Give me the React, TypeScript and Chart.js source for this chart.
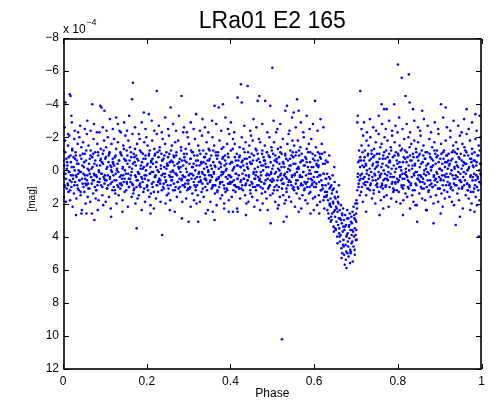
import React, { useEffect, useRef } from "react";
import { Chart, registerables } from "chart.js";

Chart.register(...registerables);

const titleText = "LRa01 E2 165";
const xLabel = "Phase";
const yLabel = "[mag]";
const exponentBase = "x 10";
const exponentPower = "\u22124";
const xTicks = [0, 0.2, 0.4, 0.6, 0.8, 1];
const yTicks = [-8, -6, -4, -2, 0, 2, 4, 6, 8, 10, 12];

// out-of-transit band, phase 0 - 0.63 (mag in units of 1e-4)
const bandBefore: number[][] = [
[0,.4],[.001,-1.2],[.002,1.6],[.003,-.3],[.004,.9],[.005,-1.8],[.006,.2],[.007,1.9],[.008,-.7],[.009,1.1],
[.01,-.5],[.011,.8],[.012,-1.5],[.013,1.3],[.014,.1],[.015,-2.1],[.016,.6],[.017,1.8],[.018,-.9],[.019,.3],
[.02,1],[.021,-.2],[.022,-1.3],[.023,2.2],[.024,.5],[.025,-.8],[.026,1.4],[.027,-1.9],[.028,0],[.029,.7],
[.03,-1.1],[.031,.3],[.032,1.7],[.033,-.6],[.034,.9],[.035,-1.6],[.036,.2],[.037,-.4],[.038,1.2],[.039,-2],
[.04,.6],[.041,-.9],[.042,1.5],[.043,.1],[.044,-1.4],[.045,2.4],[.046,-.3],[.047,.8],[.048,-1.7],[.049,1],
[.05,-.2],[.051,1.3],[.052,-1],[.053,.5],[.054,2],[.055,-.6],[.056,.9],[.057,-2.2],[.058,.3],[.059,1.6],
[.06,.8],[.061,-1.5],[.062,0],[.063,1.1],[.064,-.7],[.065,1.9],[.066,-1.2],[.067,.4],[.068,-.1],[.069,2.6],
[.07,-.8],[.071,.6],[.072,1.4],[.073,-1.9],[.074,.2],[.075,-.4],[.076,1],[.077,-1.1],[.078,1.7],[.079,.3],
[.08,1.2],[.081,-.3],[.082,-1.6],[.083,.7],[.084,-.9],[.085,1.8],[.086,.1],[.087,-2.3],[.088,.5],[.089,-.6],
[.09,-1.3],[.091,.9],[.092,.2],[.093,-.5],[.094,1.5],[.095,-1],[.096,2.1],[.097,.4],[.098,-1.8],[.099,.8],
[.1,.3],[.101,-.7],[.102,1.9],[.103,-1.4],[.104,.6],[.105,1.1],[.106,-.2],[.107,-2],[.108,.9],[.109,-.9],
[.11,1.6],[.111,-1.1],[.112,.4],[.113,-.3],[.114,2.3],[.115,0],[.116,-1.6],[.117,.7],[.118,1.2],[.119,-.5],
[.12,-.4],[.121,1],[.122,-1.9],[.123,.6],[.124,-.8],[.125,1.4],[.126,.2],[.127,-1.3],[.128,2],[.129,-.1],
[.13,.9],[.131,-1.7],[.132,.1],[.133,1.5],[.134,-.6],[.135,-2.4],[.136,.8],[.137,1.1],[.138,-1],[.139,.3],
[.14,-.9],[.141,.5],[.142,1.8],[.143,-.2],[.144,-1.5],[.145,.7],[.146,-.7],[.147,1.3],[.148,0],[.149,-2.1],
[.15,.2],[.151,1.2],[.152,-1.2],[.153,.8],[.154,-.4],[.155,2.2],[.156,-1.8],[.157,.5],[.158,1],[.159,-.6],
[.16,-1.4],[.161,.7],[.162,.3],[.163,-.8],[.164,1.6],[.165,-.1],[.166,-2.2],[.167,.9],[.168,1.4],[.169,-1],
[.17,1.1],[.171,-.5],[.172,-1.3],[.173,2],[.174,.4],[.175,-.9],[.176,.6],[.177,-1.6],[.178,1.7],[.179,.1],
[.18,-.6],[.181,1.5],[.182,.2],[.183,-1.9],[.184,.8],[.185,1],[.186,-.3],[.187,-1.1],[.188,2.4],[.189,.5],
[.19,.7],[.191,-1],[.192,1.3],[.193,-.2],[.194,-1.7],[.195,.3],[.196,1.9],[.197,-.7],[.198,0],[.199,-2],
[.2,-.3],[.201,.9],[.202,-1.5],[.203,1.2],[.204,.6],[.205,-.9],[.206,1.6],[.207,-1.2],[.208,.2],[.209,2.1],
[.21,1.4],[.211,-.6],[.212,.1],[.213,-1.8],[.214,1],[.215,-.4],[.216,.7],[.217,2.3],[.218,-1.3],[.219,.4],
[.22,-1],[.221,.3],[.222,1.7],[.223,-.5],[.224,-2.2],[.225,.9],[.226,0],[.227,1.3],[.228,-.8],[.229,.6],
[.23,.5],[.231,-1.4],[.232,.8],[.233,1.9],[.234,-.1],[.235,-1],[.236,1.2],[.237,-.6],[.238,-1.9],[.239,.2],
[.24,-.7],[.241,1.1],[.242,-.2],[.243,.4],[.244,-1.6],[.245,2],[.246,.7],[.247,-1.1],[.248,1.5],[.249,-.3],
[.25,.9],[.251,-.8],[.252,1.4],[.253,-2.1],[.254,.3],[.255,-.5],[.256,1.8],[.257,.1],[.258,-1.2],[.259,.6],
[.26,-1.5],[.261,.4],[.262,0],[.263,1.2],[.264,-.9],[.265,.8],[.266,-.3],[.267,2.5],[.268,-1.7],[.269,1],
[.27,.2],[.271,-1.1],[.272,1.6],[.273,-.4],[.274,.7],[.275,-1.8],[.276,1.1],[.277,-.1],[.278,.5],[.279,-.7],
[.28,1.3],[.281,-.2],[.282,-1.4],[.283,.6],[.284,-.6],[.285,1.9],[.286,.3],[.287,-2.3],[.288,.9],[.289,-1],
[.29,-.8],[.291,1],[.292,.4],[.293,-1.3],[.294,1.7],[.295,-.5],[.296,.1],[.297,1.2],[.298,-2],[.299,.8],
[.3,.6],[.301,-1.6],[.302,1.1],[.303,.2],[.304,-.7],[.305,2.2],[.306,-1.2],[.307,.5],[.308,-.2],[.309,1.4],
[.31,-1.1],[.311,.3],[.312,-.4],[.313,1.8],[.314,.9],[.315,-1.9],[.316,0],[.317,1],[.318,-.6],[.319,2],
[.32,.4],[.321,-.9],[.322,1.5],[.323,-1.5],[.324,.7],[.325,.1],[.326,-.3],[.327,1.9],[.328,-1],[.329,.6],
[.33,-.5],[.331,1.3],[.332,-2.1],[.333,.8],[.334,.2],[.335,-1.2],[.336,1.6],[.337,-.1],[.338,.5],[.339,-.8],
[.34,1],[.341,-.4],[.342,.6],[.343,-1.7],[.344,1.2],[.345,-.6],[.346,2.4],[.347,0],[.348,-1.3],[.349,.3],
[.35,-1.2],[.351,.7],[.352,1.9],[.353,-.3],[.354,-.9],[.355,1.1],[.356,.4],[.357,-2],[.358,.9],[.359,-.5],
[.36,.1],[.361,-1.5],[.362,.9],[.363,1.4],[.364,-.2],[.365,-1.1],[.366,.6],[.367,2.1],[.368,-.7],[.369,1.2],
[.37,-.9],[.371,.5],[.372,-.1],[.373,1],[.374,-1.8],[.375,.8],[.376,1.7],[.377,-.4],[.378,.3],[.379,-1.3],
[.38,1.5],[.381,-.7],[.382,.2],[.383,-1.4],[.384,.9],[.385,2],[.386,-.3],[.387,-.9],[.388,1.3],[.389,0],
[.39,-.4],[.391,1.1],[.392,-1.6],[.393,.5],[.394,.8],[.395,-.8],[.396,1.8],[.397,-2.2],[.398,.3],[.399,.7],
[.4,.8],[.401,-1.2],[.402,.4],[.403,1.6],[.404,-.5],[.405,0],[.406,-1.9],[.407,1.2],[.408,.6],[.409,-.2],
[.41,-1.6],[.411,.9],[.412,1.3],[.413,-.6],[.414,.2],[.415,-1],[.416,2.3],[.417,.5],[.418,-.3],[.419,1],
[.42,.3],[.421,-.8],[.422,-1.4],[.423,1.7],[.424,.7],[.425,-.2],[.426,1.1],[.427,-2],[.428,.9],[.429,-.6],
[.43,1.2],[.431,-1.3],[.432,.5],[.433,0],[.434,-.7],[.435,1.5],[.436,-1.7],[.437,.8],[.438,2],[.439,-.4],
[.44,-.2],[.441,.6],[.442,-1.1],[.443,1.9],[.444,.3],[.445,-1.5],[.446,.9],[.447,-.5],[.448,1.4],[.449,-2.1],
[.45,.7],[.451,-.4],[.452,1.6],[.453,-1.8],[.454,1],[.455,.2],[.456,-.9],[.457,2.2],[.458,-.1],[.459,.5],
[.46,-1.3],[.461,1.2],[.462,.1],[.463,-.6],[.464,1.8],[.465,-1],[.466,.4],[.467,.9],[.468,-1.9],[.469,.6],
[.47,.5],[.471,-1.7],[.472,1],[.473,.3],[.474,-.3],[.475,1.4],[.476,-1.2],[.477,2],[.478,0],[.479,-.8],
[.48,-.6],[.481,.8],[.482,-1.5],[.483,1.3],[.484,.6],[.485,-.2],[.486,1.7],[.487,-1.1],[.488,.2],[.489,2.4],
[.49,1.1],[.491,-.9],[.492,.3],[.493,-2],[.494,.9],[.495,1.5],[.496,-.5],[.497,.1],[.498,-1.4],[.499,.7],
[.5,-.1],[.501,1.4],[.502,-1],[.503,.6],[.504,-1.7],[.505,1],[.506,.2],[.507,1.9],[.508,-.6],[.509,-2.3],
[.51,.9],[.511,-.5],[.512,1.2],[.513,-1.3],[.514,.4],[.515,2.1],[.516,-.8],[.517,0],[.518,1.6],[.519,-1.1],
[.52,-1.4],[.521,.6],[.522,-.2],[.523,1.1],[.524,.8],[.525,-1.9],[.526,1.5],[.527,-.4],[.528,.3],[.529,2],
[.53,.2],[.531,-1],[.532,1.8],[.533,-.7],[.534,1.3],[.535,.5],[.536,-1.6],[.537,.9],[.538,-.1],[.539,-2.2],
[.54,1.6],[.541,-.3],[.542,0],[.543,-1.2],[.544,.7],[.545,1.9],[.546,-.9],[.547,.4],[.548,-1.8],[.549,1.1],
[.55,-.8],[.551,1],[.552,-1.5],[.553,.3],[.554,2.2],[.555,-.4],[.556,.8],[.557,-1.1],[.558,1.4],[.559,.1],
[.56,.6],[.561,-1.8],[.562,1.1],[.563,-.1],[.564,-.9],[.565,1.7],[.566,.3],[.567,-1.4],[.568,.9],[.569,2.3],
[.57,-1],[.571,.4],[.572,1.5],[.573,-.6],[.574,.1],[.575,-2],[.576,1.2],[.577,.7],[.578,-.3],[.579,1.8],
[.58,.8],[.581,-.7],[.582,-1.3],[.583,1],[.584,2],[.585,-.2],[.586,.5],[.587,-1.6],[.588,1.4],[.589,0],
[.59,-.5],[.591,1.3],[.592,.2],[.593,-1.9],[.594,.9],[.595,.6],[.596,-1],[.597,1.7],[.598,-.2],[.599,2.4],
[.6,1],[.601,-.6],[.602,1.6],[.603,.1],[.604,-1.4],[.605,.8],[.606,-.3],[.607,2.1],[.608,.4],[.609,-1.1],
[.61,-.2],[.611,1.5],[.612,.7],[.613,-1],[.614,1.9],[.615,.3],[.616,-.7],[.617,1.2],[.618,-1.6],[.619,.9],
[.62,.9],[.621,-.4],[.622,1.8],[.623,.2],[.624,2.3],[.625,-1.1],[.626,1.3],[.627,.5],[.628,-.6],[.629,1.6]
];

// denser core of the band, phase 0 - 0.63
const coreBefore: number[][] = [
[.0005,.2],[.0022,-.6],[.0038,1],[.0055,-1.1],[.0071,.5],[.0088,-.1],
[.0105,-.3],[.0122,.9],[.0138,-.8],[.0155,.1],[.0171,1.2],[.0188,-.5],
[.0205,.7],[.0222,-1.2],[.0238,.3],[.0255,-.2],[.0271,.9],[.0288,-.7],
[.0305,-.9],[.0322,.4],[.0338,-.4],[.0355,1.1],[.0371,0],[.0388,.6],
[.0405,.1],[.0422,1.3],[.0438,-.7],[.0455,.5],[.0471,-1],[.0488,.2],
[.0505,-.5],[.0522,.3],[.0538,.8],[.0555,-1.2],[.0571,.6],[.0588,-.1],
[.0605,1.1],[.0622,-.4],[.0638,.2],[.0655,-.9],[.0671,.4],[.0688,.8],
[.0705,-.2],[.0722,-1],[.0738,.6],[.0755,.3],[.0771,-.6],[.0788,1.2],
[.0805,.4],[.0822,.9],[.0838,-1.1],[.0855,0],[.0871,.7],[.0888,-.3],
[.0905,-.7],[.0922,.2],[.0938,1],[.0955,-.4],[.0971,-1.2],[.0988,.5],
[.1005,.6],[.1022,-.8],[.1038,-.1],[.1055,1.1],[.1071,.3],[.1088,-.5],
[.1105,-1],[.1122,.5],[.1138,.8],[.1155,-.2],[.1171,.1],[.1188,-.7],
[.1205,.3],[.1222,-.3],[.1238,1.2],[.1255,-.9],[.1271,.6],[.1288,0],
[.1305,-.4],[.1322,1],[.1338,-.6],[.1355,.4],[.1371,-1.1],[.1388,.8],
[.1405,.9],[.1422,-.1],[.1438,.3],[.1455,-1.3],[.1471,.5],[.1488,-.6],
[.1505,-.6],[.1522,.7],[.1538,-.9],[.1555,.2],[.1571,1],[.1588,-.2],
[.1605,.5],[.1622,-1.1],[.1638,.1],[.1655,.8],[.1671,-.4],[.1688,1.2],
[.1705,-.8],[.1722,.3],[.1738,-.3],[.1755,1],[.1771,-.7],[.1788,.6],
[.1805,.2],[.1822,.9],[.1838,-1.2],[.1855,-.1],[.1871,.4],[.1888,-.5],
[.1905,-.1],[.1922,-.7],[.1938,1.1],[.1955,.5],[.1971,-.9],[.1988,.3],
[.2005,1],[.2022,-.4],[.2038,.6],[.2055,-1],[.2071,.2],[.2088,-.2],
[.2105,-.5],[.2122,.8],[.2138,-.7],[.2155,.1],[.2171,1.3],[.2188,-.9],
[.2205,.4],[.2222,-.2],[.2238,.9],[.2255,-1.1],[.2271,.7],[.2288,.1],
[.2305,-1.2],[.2322,.6],[.2338,-.3],[.2355,.3],[.2371,-.6],[.2388,1],
[.2405,.8],[.2422,-.9],[.2438,.2],[.2455,.6],[.2471,-.1],[.2488,-.4],
[.2505,-.3],[.2522,1.1],[.2538,-1],[.2555,.4],[.2571,.9],[.2588,-.6],
[.2605,.6],[.2622,-.5],[.2638,.1],[.2655,-.8],[.2671,1.2],[.2688,.2],
[.2705,-.9],[.2722,.3],[.2738,.7],[.2755,-.2],[.2771,-.5],[.2788,1],
[.2805,.1],[.2822,-1.2],[.2838,.5],[.2855,.9],[.2871,-.3],[.2888,.4],
[.2905,-.6],[.2922,.8],[.2938,-.1],[.2955,-1],[.2971,.6],[.2988,1.1],
[.3005,.3],[.3022,-.4],[.3038,1],[.3055,-.7],[.3071,.2],[.3088,-1.1],
[.3105,-.2],[.3122,.7],[.3138,-.9],[.3155,.5],[.3171,1.2],[.3188,-.3],
[.3205,.9],[.3222,-.6],[.3238,.2],[.3255,-1.2],[.3271,.4],[.3288,.7],
[.3305,-.4],[.3322,.1],[.3338,1.1],[.3355,-.5],[.3371,-.8],[.3388,.3],
[.3405,.5],[.3422,-1],[.3438,-.2],[.3455,.8],[.3471,.1],[.3488,-.6],
[.3505,-.7],[.3522,.6],[.3538,.3],[.3555,-.1],[.3571,1],[.3588,-1.2],
[.3605,.2],[.3622,-.3],[.3638,.9],[.3655,-.9],[.3671,.5],[.3688,1.3],
[.3705,-1.1],[.3722,.4],[.3738,-.5],[.3755,.7],[.3771,-.2],[.3788,.1],
[.3805,.7],[.3822,-.8],[.3838,.1],[.3855,1.1],[.3871,-.6],[.3888,.4],
[.3905,-.1],[.3922,1.2],[.3938,-1],[.3955,.3],[.3971,.8],[.3988,-.4],
[.4005,.4],[.4022,-.5],[.4038,.7],[.4055,-1.3],[.4071,-.1],[.4088,.9],
[.4105,-.8],[.4122,.2],[.4138,1],[.4155,-.3],[.4171,.5],[.4188,-.6],
[.4205,1.1],[.4222,-.9],[.4238,-.2],[.4255,.6],[.4271,-.5],[.4288,.2],
[.4305,-.3],[.4322,.5],[.4338,-1.1],[.4355,.9],[.4371,.3],[.4388,-.7],
[.4405,.6],[.4422,-.1],[.4438,.4],[.4455,-.8],[.4471,1.2],[.4488,-.4],
[.4505,-1],[.4522,.8],[.4538,-.6],[.4555,.1],[.4571,.5],[.4588,1],
[.4605,.3],[.4622,-1.2],[.4638,.9],[.4655,-.2],[.4671,-.7],[.4688,.6],
[.4705,-.5],[.4722,.1],[.4738,.7],[.4755,-1],[.4771,1.1],[.4788,-.3],
[.4805,.8],[.4822,-.6],[.4838,-.4],[.4855,.3],[.4871,-1.1],[.4888,.5],
[.4905,-.2],[.4922,1],[.4938,-.8],[.4955,.6],[.4971,.2],[.4988,-1.2],
[.5005,.5],[.5022,-.3],[.5038,1.2],[.5055,-.6],[.5071,-.9],[.5088,.1],
[.5105,-.7],[.5122,.6],[.5138,-.1],[.5155,1],[.5171,-.4],[.5188,.3],
[.5205,.2],[.5222,-1],[.5238,.5],[.5255,-.5],[.5271,.8],[.5288,-.2],
[.5305,-.9],[.5322,.4],[.5338,1.1],[.5355,.1],[.5371,-.6],[.5388,.7],
[.5405,.6],[.5422,-.7],[.5438,-.3],[.5455,.9],[.5471,.3],[.5488,-1.1],
[.5505,-.4],[.5522,1.2],[.5538,.2],[.5555,-.9],[.5571,.6],[.5588,-.1],
[.5605,1],[.5622,-.2],[.5638,-1.2],[.5655,.4],[.5671,-.5],[.5688,.8],
[.5705,-.6],[.5722,.9],[.5738,.1],[.5755,-.3],[.5771,1.1],[.5788,-.8],
[.5805,.3],[.5822,-.5],[.5838,.7],[.5855,-1.1],[.5871,.2],[.5888,1],
[.5905,-1.1],[.5922,.5],[.5938,-.2],[.5955,.8],[.5971,-.7],[.5988,.4],
[.6005,.7],[.6022,-.9],[.6038,1],[.6055,-.4],[.6071,.1],[.6088,-.6],
[.6105,-.3],[.6122,.3],[.6138,-.8],[.6155,1.2],[.6171,.6],[.6188,-1],
[.6205,1.1],[.6222,.2],[.6238,1.6],[.6255,-.4],[.6271,.9],[.6288,.5]
];

// transit dip, phase 0.63 - 0.71
const transitDip: number[][] = [
[.63,1.5],[.631,.2],[.6315,2.4],[.632,-.5],[.633,1.8],[.634,.8],[.635,2.9],[.636,-.9],[.6365,1.1],[.637,2.1],[.638,.5],[.639,1.7],
[.64,2.2],[.641,.9],[.6415,3],[.642,1.4],[.643,2.6],[.644,.3],[.645,1.9],[.646,3.4],[.6465,1.1],[.647,2.5],[.648,-.2],[.649,1.6],
[.65,2.8],[.651,1.7],[.6515,3.6],[.652,2.2],[.653,3.1],[.654,1.3],[.655,4],[.656,2.5],[.6565,1.9],[.657,3.3],[.658,2],[.659,.9],
[.66,3.5],[.661,2.4],[.6615,4.3],[.662,2.9],[.663,3.9],[.664,2.1],[.665,4.7],[.666,3.2],[.6665,2.6],[.667,5],[.668,3.7],[.669,2.3],
[.67,4.2],[.671,3],[.6715,5.1],[.672,3.6],[.673,5.7],[.674,2.7],[.675,4.5],[.676,3.3],[.6765,4.9],[.677,5.9],[.678,3.9],[.679,2.4],
[.68,3.8],[.681,4.6],[.6815,2.9],[.682,5.2],[.683,3.4],[.684,4.1],[.685,2.6],[.686,4.8],[.6865,3.6],[.687,5],[.688,3.1],[.689,4.4],
[.69,3.2],[.691,4.3],[.6915,2.5],[.692,5.5],[.693,3.7],[.694,2.2],[.695,4],[.696,2.9],[.6965,4.8],[.697,3.5],[.698,2],[.699,3.9],
[.7,2.6],[.7005,3.6],[.701,1.8],[.7015,4.2],[.702,2.3],[.703,1.2],[.704,.4],[.705,-.5],[.706,1],[.707,-1.2],[.708,.6],[.709,1.5],
[.6305,1.3],[.6338,2.6],[.6355,.4],[.6371,2],[.6388,1],[.6395,3.1],
[.6405,2.8],[.6438,1.2],[.6455,2],[.6471,3.7],[.6488,.7],[.6495,2.4],
[.6505,3.5],[.6538,2.3],[.6555,4.4],[.6571,1.6],[.6588,2.9],[.6595,3.8],
[.6605,4],[.6638,3],[.6655,5.3],[.6671,2.7],[.6688,4.5],[.6695,3.4],
[.6705,4.6],[.6738,3.4],[.6755,5.4],[.6771,4],[.6788,2.9],[.6795,5],
[.6805,4.3],[.6838,3.3],[.6855,5.6],[.6871,4.9],[.6888,2.8],[.6895,3.9],
[.6905,3.6],[.6938,4.6],[.6955,2.7],[.6971,5.1],[.6988,3],[.6995,4.2],
[.7002,3.1],[.7025,2],[.7045,.2],[.7062,.8],[.7078,-.6],[.7095,-.2]
];

// out-of-transit band, phase 0.71 - 1
const bandAfter: number[][] = [
[.71,-.8],[.711,.5],[.712,1.3],[.713,-1.5],[.714,.2],[.715,-.3],[.716,1.9],[.717,-2.1],[.718,.8],[.719,-.6],
[.72,.4],[.721,-1.2],[.722,.9],[.723,-.4],[.724,1.5],[.725,-1.8],[.726,0],[.727,.7],[.728,-.9],[.729,1.1],
[.73,-1.5],[.731,.3],[.732,-.6],[.733,1.2],[.734,-2],[.735,.8],[.736,.1],[.737,-1],[.738,1.7],[.739,-.3],
[.74,.6],[.741,-.8],[.742,1.4],[.743,-1.3],[.744,.2],[.745,-.1],[.746,2],[.747,-1.7],[.748,.9],[.749,-.5],
[.75,-1],[.751,1],[.752,-.3],[.753,.5],[.754,-2.2],[.755,1.3],[.756,-.7],[.757,.3],[.758,-1.4],[.759,1.8],
[.76,.2],[.761,-1.6],[.762,.8],[.763,-.4],[.764,1.1],[.765,-.9],[.766,0],[.767,1.6],[.768,-2],[.769,.5],
[.77,-.7],[.771,.9],[.772,-1.2],[.773,1.5],[.774,.3],[.775,-1.8],[.776,.6],[.777,-.2],[.778,2.2],[.779,-1],
[.78,1],[.781,-.5],[.782,.4],[.783,-1.4],[.784,1.7],[.785,-.1],[.786,-2.1],[.787,.7],[.788,-.8],[.789,1.3],
[.79,-.3],[.791,1.2],[.792,-1.7],[.793,.1],[.794,.8],[.795,-1.1],[.796,1.9],[.797,-.6],[.798,.5],[.799,-2.3],
[.8,.7],[.801,-.9],[.802,1.3],[.803,-.2],[.804,-1.5],[.805,.4],[.806,2],[.807,-1.2],[.808,0],[.809,1],
[.81,-1.3],[.811,.5],[.812,-.5],[.813,1.8],[.814,.9],[.815,-1.9],[.816,.2],[.817,-.7],[.818,1.4],[.819,-.1],
[.82,.3],[.821,-1.1],[.822,1.6],[.823,-.8],[.824,.6],[.825,-2],[.826,1.1],[.827,0],[.828,-1.4],[.829,2.3],
[.83,-.6],[.831,.8],[.832,-1.6],[.833,.4],[.834,1.5],[.835,-.3],[.836,-1],[.837,1.9],[.838,.2],[.839,-1.8],
[.84,1.2],[.841,-.4],[.842,.1],[.843,-1.3],[.844,.9],[.845,2.1],[.846,-.8],[.847,.5],[.848,-1.7],[.849,.3],
[.85,-.9],[.851,1.4],[.852,-.2],[.853,.7],[.854,-2.1],[.855,1],[.856,.4],[.857,-1.2],[.858,1.7],[.859,-.5],
[.86,.5],[.861,-1.5],[.862,1.1],[.863,0],[.864,-.7],[.865,1.8],[.866,-1.1],[.867,.3],[.868,-.3],[.869,2.4],
[.87,-1.1],[.871,.6],[.872,-.4],[.873,1.3],[.874,.2],[.875,-1.9],[.876,.9],[.877,-.8],[.878,1.6],[.879,0],
[.88,.8],[.881,-.2],[.882,-1.4],[.883,1],[.884,-.6],[.885,2],[.886,.3],[.887,-1.7],[.888,.6],[.889,-1],
[.89,-.4],[.891,1.5],[.892,.1],[.893,-1.2],[.894,.7],[.895,-.9],[.896,1.9],[.897,-2.2],[.898,.4],[.899,1.1],
[.9,1.1],[.901,-.7],[.902,.5],[.903,-1.6],[.904,1.4],[.905,0],[.906,-.4],[.907,2.2],[.908,-1.1],[.909,.6],
[.91,-1.2],[.911,.3],[.912,1.7],[.913,-.5],[.914,-1.8],[.915,.9],[.916,.2],[.917,-.9],[.918,1.3],[.919,-.1],
[.92,.4],[.921,-1],[.922,-.3],[.923,1.6],[.924,.8],[.925,-2],[.926,1.1],[.927,-.6],[.928,0],[.929,1.9],
[.93,-.7],[.931,1.2],[.932,-1.5],[.933,.5],[.934,2.1],[.935,-.2],[.936,-1.1],[.937,.9],[.938,.3],[.939,-1.7],
[.94,.9],[.941,-.3],[.942,1.4],[.943,-1.3],[.944,.1],[.945,-.8],[.946,1.8],[.947,.6],[.948,-2.1],[.949,.2],
[.95,-1],[.951,.7],[.952,-.1],[.953,1.1],[.954,-1.6],[.955,2.3],[.956,.4],[.957,-.5],[.958,.9],[.959,-1.4],
[.96,.6],[.961,-1.2],[.962,1.5],[.963,-.4],[.964,-2.2],[.965,.8],[.966,0],[.967,1.2],[.968,-.9],[.969,1.7],
[.97,-.2],[.971,1],[.972,-1.8],[.973,.4],[.974,1.3],[.975,-.7],[.976,2],[.977,-1.3],[.978,.6],[.979,-.3],
[.98,1.3],[.981,-.6],[.982,.2],[.983,-1.1],[.984,.9],[.985,-1.9],[.986,1.6],[.987,.3],[.988,-.5],[.989,2.1],
[.99,-.9],[.991,.5],[.992,1.2],[.993,-1.5],[.994,0],[.995,1.8],[.996,-.4],[.997,-2],[.998,.8],[.999,.3]
];

// denser core of the band, phase 0.71 - 1
const coreAfter: number[][] = [
[.7105,.3],[.7122,-.6],[.7138,1],[.7155,-1.1],[.7171,.5],[.7188,-.2],
[.7205,-.8],[.7222,.7],[.7238,-.3],[.7255,.2],[.7271,1.1],[.7288,-1],
[.7305,.5],[.7322,-.1],[.7338,.9],[.7355,-.7],[.7371,-1.2],[.7388,.4],
[.7405,-.4],[.7422,1.2],[.7438,-.9],[.7455,.3],[.7471,.6],[.7488,-.2],
[.7505,.8],[.7522,-.5],[.7538,.1],[.7555,-1],[.7571,.4],[.7588,1],
[.7605,-.2],[.7622,.9],[.7638,-.7],[.7655,.6],[.7671,-1.1],[.7688,.2],
[.7705,1],[.7722,-.3],[.7738,.5],[.7755,-.8],[.7771,.1],[.7788,-.5],
[.7805,-.6],[.7822,.2],[.7838,-1.2],[.7855,.8],[.7871,.4],[.7888,1.1],
[.7905,.4],[.7922,-.9],[.7938,.7],[.7955,-.1],[.7971,1.2],[.7988,-.4],
[.8005,-1],[.8022,.6],[.8038,-.5],[.8055,.3],[.8071,-.2],[.8088,.9],
[.8105,.2],[.8122,1.1],[.8138,-.8],[.8155,.5],[.8171,-1.2],[.8188,.1],
[.8205,-.5],[.8222,.4],[.8238,1],[.8255,-.3],[.8271,.7],[.8288,-.9],
[.8305,.9],[.8322,-.6],[.8338,-.1],[.8355,1.2],[.8371,-.8],[.8388,.3],
[.8405,-.3],[.8422,.8],[.8438,-1.1],[.8455,.1],[.8471,.5],[.8488,-.6],
[.8505,.6],[.8522,-1],[.8538,.3],[.8555,-.4],[.8571,1.1],[.8588,.7],
[.8605,-.9],[.8622,.2],[.8638,.8],[.8655,-.7],[.8671,-.1],[.8688,1],
[.8705,.1],[.8722,-.4],[.8738,1.2],[.8755,-1],[.8771,.6],[.8788,-.2],
[.8805,-.7],[.8822,1],[.8838,-.3],[.8855,.4],[.8871,-1.2],[.8888,.9],
[.8905,.5],[.8922,-.8],[.8938,.2],[.8955,1.1],[.8971,-.5],[.8988,-.1],
[.9005,-.1],[.9022,.6],[.9038,-1],[.9055,.3],[.9071,.9],[.9088,-.7],
[.9105,1.2],[.9122,-.2],[.9138,.4],[.9155,-.9],[.9171,-.5],[.9188,.7],
[.9205,-.6],[.9222,.9],[.9238,-.4],[.9255,.2],[.9271,1],[.9288,-1.1],
[.9305,.3],[.9322,-1.2],[.9338,.8],[.9355,-.1],[.9371,.5],[.9388,-.5],
[.9405,-1],[.9422,.4],[.9438,-.2],[.9455,1.1],[.9471,-.7],[.9488,.6],
[.9505,.7],[.9522,-.6],[.9538,1],[.9555,-.3],[.9571,.1],[.9588,-.9],
[.9605,-.4],[.9622,.2],[.9638,-1.1],[.9655,.8],[.9671,1.2],[.9688,-.1],
[.9705,.9],[.9722,-.7],[.9738,.3],[.9755,-.5],[.9771,-1],[.9788,.4],
[.9805,-.2],[.9822,1.1],[.9838,-.6],[.9855,.6],[.9871,-.3],[.9888,1],
[.9905,.4],[.9922,-.9],[.9938,.7],[.9955,-1.2],[.9971,.2],[.9988,-.4]
];

// moderate scatter above and below the band
const upperScatter: number[][] = [
[.004,-2.6],[.012,-2.2],[.021,-2.9],[.028,-2.4],[.036,-2.3],[.041,-2.7],[.052,-2.5],[.058,-3],[.066,-2.4],[.074,-2.8],
[.081,-2.3],[.095,-2.6],[.104,-2.4],[.112,-3.1],[.119,-2.5],[.131,-2.8],[.138,-2.3],[.146,-2.9],[.153,-2.4],[.158,-3.3],
[.172,-2.6],[.181,-2.2],[.188,-2.9],[.197,-2.5],[.212,-3],[.218,-2.4],[.229,-2.7],[.236,-2.3],[.244,-3.2],[.251,-2.5],
[.263,-2.8],[.27,-2.4],[.277,-3.3],[.289,-2.6],[.296,-2.3],[.305,-2.9],[.312,-2.5],[.318,-3.4],[.327,-2.4],[.339,-2.6],
[.347,-2.3],[.366,-2.8],[.378,-2.4],[.388,-3.2],[.394,-2.5],[.401,-2.9],[.409,-2.3],[.433,-2.7],[.447,-2.4],[.455,-3.1],
[.462,-2.6],[.476,-2.8],[.488,-2.3],[.503,-3],[.512,-2.5],[.519,-2.8],[.541,-2.4],[.547,-3.2],[.556,-2.6],[.568,-2.9],
[.574,-2.3],[.582,-3.3],[.589,-2.5],[.597,-2.8],[.608,-2.4],[.615,-3.1],[.622,-2.6],[.713,-2.5],[.719,-2.9],[.726,-2.3],
[.733,-3.1],[.741,-2.6],[.748,-2.4],[.754,-3.3],[.762,-2.8],[.771,-2.5],[.779,-3],[.786,-2.4],[.794,-2.7],[.803,-3.2],
[.811,-2.5],[.821,-2.8],[.829,-2.3],[.839,-3],[.848,-2.6],[.853,-2.4],[.862,-3.1],[.871,-2.7],[.879,-2.3],[.888,-2.9],
[.896,-2.5],[.908,-3.2],[.917,-2.6],[.925,-2.4],[.933,-3],[.944,-2.7],[.952,-2.3],[.958,-3.1],[.969,-2.5],[.977,-2.9],
[.988,-2.4],[.995,-3.3]
];

const lowerScatter: number[][] = [
[.031,2.7],[.083,2.4],[.115,2.8],[.142,2.5],[.209,2.6],[.255,2.4],[.284,2.9],[.341,2.6],[.385,2.3],[.437,2.7],
[.471,2.4],[.534,2.8],[.563,2.5],[.591,2.6],[.724,2.5],[.765,2.3],[.812,2.7],[.867,2.4],[.902,2.6],[.948,2.8],[.973,2.4]
];

// isolated outliers
const outliers: number[][] = [
[.006,-4.1],[.016,-4.6],[.018,-4.5],[.02,-3.3],[.07,-4],[.089,-3.9],[.092,-3.8],[.099,-3.6],[.127,-3.2],[.165,-4.3],
[.167,-5.3],[.193,-3.5],[.205,-3.4],[.224,-4.8],[.257,-3.8],[.283,-4.5],[.333,-3.1],[.356,-3],[.362,-3.9],[.372,-3.8],
[.382,-4],[.417,-4.4],[.425,-5.2],[.427,-4.1],[.441,-5.1],[.465,-4.2],[.469,-4.5],[.483,-4.2],[.495,-3.9],[.5,-6.2],
[.531,-3.6],[.535,-3.9],[.551,-3.5],[.559,-4.3],[.563,-3.6],[.602,-4.2],[.703,-2.9],[.704,-3.3],[.71,-4.8],[.761,-4],
[.767,-3.7],[.773,-3.7],[.791,-4],[.8,-6.4],[.809,-5.6],[.818,-4.5],[.826,-5.8],[.828,-4.1],[.836,-3.7],[.858,-3.6],
[.903,-4],[.914,-3.8],[.964,-3.7],[.985,-3.4],
[.044,2.6],[.056,2.6],[.075,3],[.176,3.5],[.237,3.9],[.3,3.1],[.323,3.1],[.358,2.5],[.362,3],[.396,2.5],
[.406,2.5],[.417,2.5],[.496,3.2],[.513,2.3],[.523,10.2],[.527,3.1],[.612,2.6],[.756,2.7],[.842,2.1],[.846,3.1],
[.885,3.2],[.938,3.3],[.983,2.5],[.993,4]
];

const FONT = '"Liberation Sans", Arial, Helvetica, sans-serif';

const framePlugin = {
  id: "matlabFrame",
  afterDraw(chart: any) {
    const { ctx, chartArea: a, scales } = chart;
    const xs = scales.x;
    const ys = scales.y;
    ctx.save();
    ctx.strokeStyle = "#000";
    const L = Math.round(a.left) + 1;
    const R = Math.round(a.right) - 1;
    const T = Math.round(a.top) + 1;
    const B = Math.round(a.bottom);
    ctx.lineWidth = 1.6;
    ctx.strokeRect(L, T, R - L, B - T);
    const tl = 5;
    ctx.lineWidth = 1;
    ctx.beginPath();
    for (const v of xTicks) {
      const px = Math.round(xs.getPixelForValue(v)) + 0.5;
      ctx.moveTo(px, B);
      ctx.lineTo(px, B - tl);
      ctx.moveTo(px, T);
      ctx.lineTo(px, T + tl);
    }
    for (const v of yTicks) {
      const py = Math.round(ys.getPixelForValue(v)) + 0.5;
      ctx.moveTo(L, py);
      ctx.lineTo(L + tl, py);
      ctx.moveTo(R, py);
      ctx.lineTo(R - tl, py);
    }
    ctx.stroke();

    ctx.fillStyle = "#000";
    ctx.textBaseline = "alphabetic";
    ctx.textAlign = "center";
    ctx.font = `23px ${FONT}`;
    ctx.fillText(titleText, (a.left + a.right) / 2, 27.5);

    ctx.font = `12px ${FONT}`;
    ctx.fillText(xLabel, (a.left + a.right) / 2, 397);

    ctx.textAlign = "left";
    ctx.font = `12px ${FONT}`;
    ctx.fillText(exponentBase, a.left, 33);
    const w = ctx.measureText(exponentBase).width;
    ctx.font = `9px ${FONT}`;
    ctx.fillText(exponentPower, a.left + w + 0.5, 25);

    ctx.translate(32, 199);
    ctx.rotate(-Math.PI / 2);
    ctx.textAlign = "center";
    ctx.textBaseline = "middle";
    ctx.font = `10px ${FONT}`;
    ctx.fillText(yLabel, 0, 0);
    ctx.restore();
  },
};

function fmtY(v: number) {
  return v < 0 ? "\u2212" + Math.abs(v) : String(v);
}

export default function App() {
  const ref = useRef<HTMLCanvasElement | null>(null);
  useEffect(() => {
    if (!ref.current) return;
    const pts = [
      ...bandBefore,
      ...coreBefore,
      ...transitDip,
      ...bandAfter,
      ...coreAfter,
      ...upperScatter,
      ...lowerScatter,
      ...outliers,
    ].map(([x, y]) => ({ x, y }));
    const chart = new Chart(ref.current, {
      type: "scatter",
      data: {
        datasets: [
          {
            data: pts,
            pointRadius: 1.3,
            pointBackgroundColor: "#0000ff",
            pointBorderWidth: 0,
            pointHoverRadius: 1.3,
            showLine: false,
          },
        ],
      },
      options: {
        responsive: false,
        animation: false,
        events: [],
        layout: { padding: { top: 38, right: 3, left: 0, bottom: 0 } },
        plugins: {
          legend: { display: false },
          tooltip: { enabled: false },
          title: { display: false },
        },
        scales: {
          x: {
            type: "linear",
            min: 0,
            max: 1,
            grid: { display: false, drawTicks: false },
            border: { display: false },
            afterBuildTicks: (s: any) => {
              s.ticks = xTicks.map((v) => ({ value: v }));
            },
            afterFit: (s: any) => {
              s.height = 31;
            },
            ticks: {
              autoSkip: false,
              maxRotation: 0,
              padding: 5,
              color: "#000",
              font: { family: FONT, size: 12 },
              callback: (v: any) => String(v),
            },
          },
          y: {
            type: "linear",
            reverse: true,
            min: -8,
            max: 12,
            grid: { display: false, drawTicks: false },
            border: { display: false },
            afterBuildTicks: (s: any) => {
              s.ticks = yTicks.map((v) => ({ value: v }));
            },
            afterFit: (s: any) => {
              s.width = 63;
            },
            ticks: {
              autoSkip: false,
              padding: 4,
              color: "#000",
              font: { family: FONT, size: 12 },
              callback: (v: any) => fmtY(Number(v)),
            },
          },
        },
      },
      plugins: [framePlugin],
    });
    return () => chart.destroy();
  }, []);
  return (
    <div style={{ position: "fixed", left: 0, top: 0, width: 490, height: 400, background: "#fff" }}>
      <canvas ref={ref} width={490} height={400} style={{ display: "block" }} />
    </div>
  );
}
